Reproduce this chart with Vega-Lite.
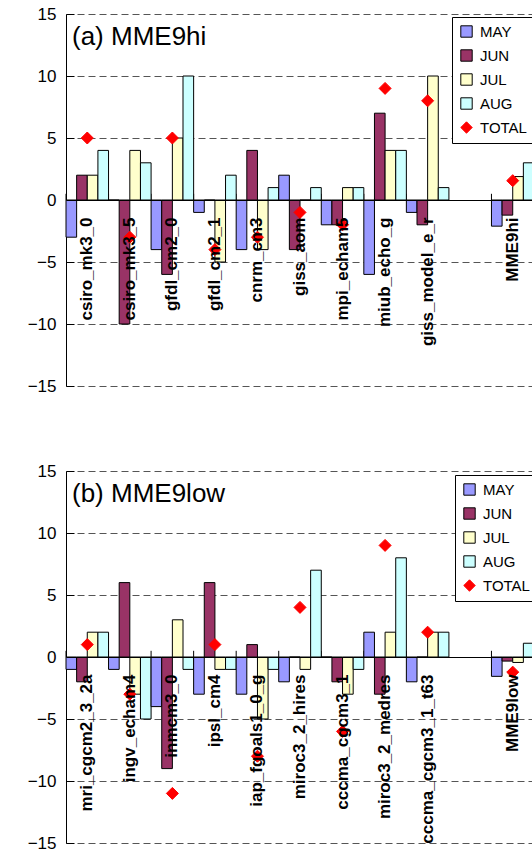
{
  "$schema": "https://vega.github.io/schema/vega-lite/v6.json",
  "padding": {"left": 27, "top": 5, "right": 0, "bottom": 0},
  "background": "white",
  "bounds": "flush",
  "spacing": 85,
  "config": {
    "view": {"stroke": null},
    "font": "Liberation Sans",
    "legend": {
      "title": null,
      "orient": "none",
      "labelFont": "Liberation Sans",
      "labelFontSize": 15,
      "labelColor": "black",
      "symbolSize": 130,
      "symbolStrokeWidth": 1,
      "rowPadding": 7,
      "padding": 7,
      "labelOffset": 6,
      "strokeColor": "black",
      "fillColor": "white"
    },
    "axisY": {
      "domainColor": "black",
      "tickColor": "black",
      "tickSize": -8,
      "labelPadding": 18,
      "labelFontSize": 17,
      "labelColor": "black",
      "labelFont": "Liberation Sans",
      "grid": true,
      "gridDash": [7, 4],
      "gridColor": "#555",
      "gridOpacity": 1,
      "title": null
    }
  },
  "datasets": {
    "hi": [
      {"model": "csiro_mk3_0", "series": "MAY", "value": -3},
      {"model": "csiro_mk3_0", "series": "JUN", "value": 2},
      {"model": "csiro_mk3_0", "series": "JUL", "value": 2},
      {"model": "csiro_mk3_0", "series": "AUG", "value": 4},
      {"model": "csiro_mk3_0", "series": "TOTAL", "value": 5},
      {"model": "csiro_mk3_5", "series": "MAY", "value": 0},
      {"model": "csiro_mk3_5", "series": "JUN", "value": -10},
      {"model": "csiro_mk3_5", "series": "JUL", "value": 4},
      {"model": "csiro_mk3_5", "series": "AUG", "value": 3},
      {"model": "csiro_mk3_5", "series": "TOTAL", "value": -3},
      {"model": "gfdl_cm2_0", "series": "MAY", "value": -4},
      {"model": "gfdl_cm2_0", "series": "JUN", "value": -6},
      {"model": "gfdl_cm2_0", "series": "JUL", "value": 5},
      {"model": "gfdl_cm2_0", "series": "AUG", "value": 10},
      {"model": "gfdl_cm2_0", "series": "TOTAL", "value": 5},
      {"model": "gfdl_cm2_1", "series": "MAY", "value": -1},
      {"model": "gfdl_cm2_1", "series": "JUN", "value": 0},
      {"model": "gfdl_cm2_1", "series": "JUL", "value": -5},
      {"model": "gfdl_cm2_1", "series": "AUG", "value": 2},
      {"model": "gfdl_cm2_1", "series": "TOTAL", "value": -4},
      {"model": "cnrm_cm3", "series": "MAY", "value": -4},
      {"model": "cnrm_cm3", "series": "JUN", "value": 4},
      {"model": "cnrm_cm3", "series": "JUL", "value": -4},
      {"model": "cnrm_cm3", "series": "AUG", "value": 1},
      {"model": "cnrm_cm3", "series": "TOTAL", "value": -3},
      {"model": "giss_aom", "series": "MAY", "value": 2},
      {"model": "giss_aom", "series": "JUN", "value": -4},
      {"model": "giss_aom", "series": "JUL", "value": 0},
      {"model": "giss_aom", "series": "AUG", "value": 1},
      {"model": "giss_aom", "series": "TOTAL", "value": -1},
      {"model": "mpi_echam5", "series": "MAY", "value": -2},
      {"model": "mpi_echam5", "series": "JUN", "value": -2},
      {"model": "mpi_echam5", "series": "JUL", "value": 1},
      {"model": "mpi_echam5", "series": "AUG", "value": 1},
      {"model": "mpi_echam5", "series": "TOTAL", "value": -2},
      {"model": "miub_echo_g", "series": "MAY", "value": -6},
      {"model": "miub_echo_g", "series": "JUN", "value": 7},
      {"model": "miub_echo_g", "series": "JUL", "value": 4},
      {"model": "miub_echo_g", "series": "AUG", "value": 4},
      {"model": "miub_echo_g", "series": "TOTAL", "value": 9},
      {"model": "giss_model_e_r", "series": "MAY", "value": -1},
      {"model": "giss_model_e_r", "series": "JUN", "value": -2},
      {"model": "giss_model_e_r", "series": "JUL", "value": 10},
      {"model": "giss_model_e_r", "series": "AUG", "value": 1},
      {"model": "giss_model_e_r", "series": "TOTAL", "value": 8},
      {"model": "MME9hi", "series": "MAY", "value": -2.11},
      {"model": "MME9hi", "series": "JUN", "value": -1.22},
      {"model": "MME9hi", "series": "JUL", "value": 1.89},
      {"model": "MME9hi", "series": "AUG", "value": 3.0},
      {"model": "MME9hi", "series": "TOTAL", "value": 1.56}
    ],
    "low": [
      {"model": "mri_cgcm2_3_2a", "series": "MAY", "value": -1},
      {"model": "mri_cgcm2_3_2a", "series": "JUN", "value": -2},
      {"model": "mri_cgcm2_3_2a", "series": "JUL", "value": 2},
      {"model": "mri_cgcm2_3_2a", "series": "AUG", "value": 2},
      {"model": "mri_cgcm2_3_2a", "series": "TOTAL", "value": 1},
      {"model": "ingv_echam4", "series": "MAY", "value": -1},
      {"model": "ingv_echam4", "series": "JUN", "value": 6},
      {"model": "ingv_echam4", "series": "JUL", "value": -3},
      {"model": "ingv_echam4", "series": "AUG", "value": -5},
      {"model": "ingv_echam4", "series": "TOTAL", "value": -3},
      {"model": "inmcm3_0", "series": "MAY", "value": -4},
      {"model": "inmcm3_0", "series": "JUN", "value": -9},
      {"model": "inmcm3_0", "series": "JUL", "value": 3},
      {"model": "inmcm3_0", "series": "AUG", "value": -1},
      {"model": "inmcm3_0", "series": "TOTAL", "value": -11},
      {"model": "ipsl_cm4", "series": "MAY", "value": -3},
      {"model": "ipsl_cm4", "series": "JUN", "value": 6},
      {"model": "ipsl_cm4", "series": "JUL", "value": -1},
      {"model": "ipsl_cm4", "series": "AUG", "value": -1},
      {"model": "ipsl_cm4", "series": "TOTAL", "value": 1},
      {"model": "iap_fgoals1_0_g", "series": "MAY", "value": -3},
      {"model": "iap_fgoals1_0_g", "series": "JUN", "value": 1},
      {"model": "iap_fgoals1_0_g", "series": "JUL", "value": -5},
      {"model": "iap_fgoals1_0_g", "series": "AUG", "value": -1},
      {"model": "iap_fgoals1_0_g", "series": "TOTAL", "value": -8},
      {"model": "miroc3_2_hires", "series": "MAY", "value": -2},
      {"model": "miroc3_2_hires", "series": "JUN", "value": 0},
      {"model": "miroc3_2_hires", "series": "JUL", "value": -1},
      {"model": "miroc3_2_hires", "series": "AUG", "value": 7},
      {"model": "miroc3_2_hires", "series": "TOTAL", "value": 4},
      {"model": "cccma_cgcm3_1", "series": "MAY", "value": 0},
      {"model": "cccma_cgcm3_1", "series": "JUN", "value": -2},
      {"model": "cccma_cgcm3_1", "series": "JUL", "value": -3},
      {"model": "cccma_cgcm3_1", "series": "AUG", "value": -1},
      {"model": "cccma_cgcm3_1", "series": "TOTAL", "value": -6},
      {"model": "miroc3_2_medres", "series": "MAY", "value": 2},
      {"model": "miroc3_2_medres", "series": "JUN", "value": -3},
      {"model": "miroc3_2_medres", "series": "JUL", "value": 2},
      {"model": "miroc3_2_medres", "series": "AUG", "value": 8},
      {"model": "miroc3_2_medres", "series": "TOTAL", "value": 9},
      {"model": "cccma_cgcm3_1_t63", "series": "MAY", "value": -2},
      {"model": "cccma_cgcm3_1_t63", "series": "JUN", "value": 0},
      {"model": "cccma_cgcm3_1_t63", "series": "JUL", "value": 2},
      {"model": "cccma_cgcm3_1_t63", "series": "AUG", "value": 2},
      {"model": "cccma_cgcm3_1_t63", "series": "TOTAL", "value": 2},
      {"model": "MME9low", "series": "MAY", "value": -1.56},
      {"model": "MME9low", "series": "JUN", "value": -0.33},
      {"model": "MME9low", "series": "JUL", "value": -0.44},
      {"model": "MME9low", "series": "AUG", "value": 1.11},
      {"model": "MME9low", "series": "TOTAL", "value": -1.22}
    ]
  },
  "resolve": {
    "scale": {"x": "independent", "color": "independent", "shape": "independent", "stroke": "independent", "xOffset": "independent"},
    "legend": {"color": "independent", "shape": "independent", "stroke": "independent"}
  },
  "vconcat": [
    {
      "width": 468,
      "height": 372,
      "data": {"name": "hi"},
      "layer": [
        {
          "transform": [{"filter": "datum.series == 'TOTAL'"}],
          "mark": {"type": "rule", "color": "black", "strokeWidth": 1},
          "encoding": {
            "x": {"field": "model", "type": "nominal", "bandPosition": 0,
                  "scale": {"domain": ["csiro_mk3_0", "csiro_mk3_5", "gfdl_cm2_0", "gfdl_cm2_1", "cnrm_cm3", "giss_aom", "mpi_echam5", "miub_echo_g", "giss_model_e_r", " ", "MME9hi"], "paddingInner": 0, "paddingOuter": 0}},
            "y": {"datum": 0, "type": "quantitative"},
            "y2": {"datum": 0.5}
          }
        },
        {
          "transform": [{"filter": "datum.series != 'TOTAL'"}],
          "mark": {"type": "bar", "strokeWidth": 1},
          "encoding": {
            "x": {"field": "model", "type": "nominal", "sort": null,
                  "scale": {"domain": ["csiro_mk3_0", "csiro_mk3_5", "gfdl_cm2_0", "gfdl_cm2_1", "cnrm_cm3", "giss_aom", "mpi_echam5", "miub_echo_g", "giss_model_e_r", " ", "MME9hi"], "paddingInner": 0, "paddingOuter": 0},
                  "axis": {"orient": "bottom", "offset": -186, "title": null, "ticks": false, "domainColor": "black", "domainWidth": 1, "labelAngle": -90, "labelAlign": "right", "labelBaseline": "middle", "labelPadding": 17, "labelFontSize": 17, "labelFontWeight": "bold", "labelFont": "Liberation Sans", "labelColor": "black", "labelOverlap": false, "labelLimit": 0, "grid": false, "zindex": 1}},
            "xOffset": {"field": "series", "type": "nominal", "scale": {"domain": ["MAY", "JUN", "JUL", "AUG"], "paddingInner": 0, "paddingOuter": 0}},
            "y": {"field": "value", "type": "quantitative", "scale": {"domain": [-15, 15], "nice": false, "zero": false}, "axis": {"values": [-15, -10, -5, 0, 5, 10, 15]}},
            "color": {"field": "series", "type": "nominal", "scale": {"domain": ["MAY", "JUN", "JUL", "AUG", "TOTAL"], "range": ["#9999FF", "#993366", "#FFFFCC", "#CCFFFF", "#FF0000"]}, "legend": {"legendX": 386, "legendY": 3}},
            "stroke": {"field": "series", "type": "nominal", "scale": {"domain": ["MAY", "JUN", "JUL", "AUG", "TOTAL"], "range": ["#000000", "#000000", "#000000", "#000000", "#FF0000"]}, "legend": {"legendX": 386, "legendY": 3}}
          }
        },
        {
          "transform": [{"filter": "datum.series == 'TOTAL'"}],
          "mark": {"type": "point", "filled": true, "size": 144, "strokeWidth": 1, "opacity": 1},
          "encoding": {
            "x": {"field": "model", "type": "nominal",
                  "scale": {"domain": ["csiro_mk3_0", "csiro_mk3_5", "gfdl_cm2_0", "gfdl_cm2_1", "cnrm_cm3", "giss_aom", "mpi_echam5", "miub_echo_g", "giss_model_e_r", " ", "MME9hi"], "paddingInner": 0, "paddingOuter": 0}},
            "y": {"field": "value", "type": "quantitative"},
            "color": {"field": "series", "type": "nominal", "legend": {"legendX": 386, "legendY": 3}},
            "stroke": {"field": "series", "type": "nominal", "legend": {"legendX": 386, "legendY": 3}},
            "shape": {"field": "series", "type": "nominal", "scale": {"domain": ["MAY", "JUN", "JUL", "AUG", "TOTAL"], "range": ["square", "square", "square", "square", "diamond"]}, "legend": {"legendX": 386, "legendY": 3}}
          }
        },
        {
          "transform": [{"filter": "datum.series == 'TOTAL' && datum.model == 'csiro_mk3_0'"}],
          "mark": {"type": "text", "text": "(a) MME9hi", "align": "left", "baseline": "alphabetic", "dx": 6, "dy": 31, "fontSize": 26, "font": "Liberation Sans", "color": "black"},
          "encoding": {
            "x": {"datum": "csiro_mk3_0", "type": "nominal", "bandPosition": 0},
            "y": {"datum": 15, "type": "quantitative"}
          }
        }
      ]
    },
    {
      "width": 468,
      "height": 372,
      "data": {"name": "low"},
      "layer": [
        {
          "transform": [{"filter": "datum.series == 'TOTAL'"}],
          "mark": {"type": "rule", "color": "black", "strokeWidth": 1},
          "encoding": {
            "x": {"field": "model", "type": "nominal", "bandPosition": 0,
                  "scale": {"domain": ["mri_cgcm2_3_2a", "ingv_echam4", "inmcm3_0", "ipsl_cm4", "iap_fgoals1_0_g", "miroc3_2_hires", "cccma_cgcm3_1", "miroc3_2_medres", "cccma_cgcm3_1_t63", " ", "MME9low"], "paddingInner": 0, "paddingOuter": 0}},
            "y": {"datum": 0, "type": "quantitative"},
            "y2": {"datum": 0.5}
          }
        },
        {
          "transform": [{"filter": "datum.series != 'TOTAL'"}],
          "mark": {"type": "bar", "strokeWidth": 1},
          "encoding": {
            "x": {"field": "model", "type": "nominal", "sort": null,
                  "scale": {"domain": ["mri_cgcm2_3_2a", "ingv_echam4", "inmcm3_0", "ipsl_cm4", "iap_fgoals1_0_g", "miroc3_2_hires", "cccma_cgcm3_1", "miroc3_2_medres", "cccma_cgcm3_1_t63", " ", "MME9low"], "paddingInner": 0, "paddingOuter": 0},
                  "axis": {"orient": "bottom", "offset": -186, "title": null, "ticks": false, "domainColor": "black", "domainWidth": 1, "labelAngle": -90, "labelAlign": "right", "labelBaseline": "middle", "labelPadding": 17, "labelFontSize": 17, "labelFontWeight": "bold", "labelFont": "Liberation Sans", "labelColor": "black", "labelOverlap": false, "labelLimit": 0, "grid": false, "zindex": 1}},
            "xOffset": {"field": "series", "type": "nominal", "scale": {"domain": ["MAY", "JUN", "JUL", "AUG"], "paddingInner": 0, "paddingOuter": 0}},
            "y": {"field": "value", "type": "quantitative", "scale": {"domain": [-15, 15], "nice": false, "zero": false}, "axis": {"values": [-15, -10, -5, 0, 5, 10, 15]}},
            "color": {"field": "series", "type": "nominal", "scale": {"domain": ["MAY", "JUN", "JUL", "AUG", "TOTAL"], "range": ["#9999FF", "#993366", "#FFFFCC", "#CCFFFF", "#FF0000"]}, "legend": {"legendX": 389, "legendY": 4}},
            "stroke": {"field": "series", "type": "nominal", "scale": {"domain": ["MAY", "JUN", "JUL", "AUG", "TOTAL"], "range": ["#000000", "#000000", "#000000", "#000000", "#FF0000"]}, "legend": {"legendX": 389, "legendY": 4}}
          }
        },
        {
          "transform": [{"filter": "datum.series == 'TOTAL'"}],
          "mark": {"type": "point", "filled": true, "size": 144, "strokeWidth": 1, "opacity": 1},
          "encoding": {
            "x": {"field": "model", "type": "nominal",
                  "scale": {"domain": ["mri_cgcm2_3_2a", "ingv_echam4", "inmcm3_0", "ipsl_cm4", "iap_fgoals1_0_g", "miroc3_2_hires", "cccma_cgcm3_1", "miroc3_2_medres", "cccma_cgcm3_1_t63", " ", "MME9low"], "paddingInner": 0, "paddingOuter": 0}},
            "y": {"field": "value", "type": "quantitative"},
            "color": {"field": "series", "type": "nominal", "legend": {"legendX": 389, "legendY": 4}},
            "stroke": {"field": "series", "type": "nominal", "legend": {"legendX": 389, "legendY": 4}},
            "shape": {"field": "series", "type": "nominal", "scale": {"domain": ["MAY", "JUN", "JUL", "AUG", "TOTAL"], "range": ["square", "square", "square", "square", "diamond"]}, "legend": {"legendX": 389, "legendY": 4}}
          }
        },
        {
          "transform": [{"filter": "datum.series == 'TOTAL' && datum.model == 'mri_cgcm2_3_2a'"}],
          "mark": {"type": "text", "text": "(b) MME9low", "align": "left", "baseline": "alphabetic", "dx": 6, "dy": 31, "fontSize": 26, "font": "Liberation Sans", "color": "black"},
          "encoding": {
            "x": {"datum": "mri_cgcm2_3_2a", "type": "nominal", "bandPosition": 0},
            "y": {"datum": 15, "type": "quantitative"}
          }
        }
      ]
    }
  ]
}
